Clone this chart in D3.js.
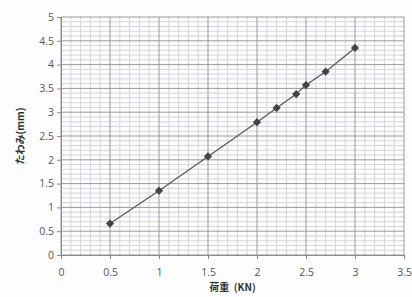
<!DOCTYPE html>
<html><head><meta charset="utf-8">
<script src="https://cdn.jsdelivr.net/npm/d3@7"></script>
<style>body{margin:0;background:#fff}svg{display:block}</style>
</head><body>
<script>
const loads = [0.5, 1.0, 1.5, 2.0, 2.2, 2.4, 2.5, 2.7, 3.0];
const deflections = [0.66, 1.35, 2.07, 2.79, 3.09, 3.38, 3.57, 3.85, 4.35];
const xTicks = [0, 0.5, 1, 1.5, 2, 2.5, 3, 3.5];
const yTicks = [0, 0.5, 1, 1.5, 2, 2.5, 3, 3.5, 4, 4.5, 5];
const xTitle = "荷重\u00a0 (KN)";
const yTitle = "たわみ(mm)";

const W = 412, H = 297;
const m = {left: 61, right: 8, top: 17, bottom: 42};
const svg = d3.select("body").append("svg").attr("width", W).attr("height", H);
svg.append("rect").attr("width", W).attr("height", H).attr("fill", "#fdfdfd");
const x = d3.scaleLinear().domain([0, 3.5]).range([m.left, W - m.right]);
const y = d3.scaleLinear().domain([0, 5]).range([H - m.bottom, m.top]);

const g = svg.append("g");
const minorX = d3.range(0, 35).map(i => i / 10).filter(v => Math.round(v * 10) % 5 !== 0);
const minorY = d3.range(0, 50).map(i => i / 10).filter(v => Math.round(v * 10) % 5 !== 0);
g.selectAll(".mx").data(minorX).join("line")
  .attr("x1", d => x(d)).attr("x2", d => x(d)).attr("y1", y(0)).attr("y2", y(5))
  .attr("stroke", "#d4d4dc").attr("stroke-width", 1);
g.selectAll(".my").data(minorY).join("line")
  .attr("y1", d => y(d)).attr("y2", d => y(d)).attr("x1", x(0)).attr("x2", x(3.5))
  .attr("stroke", "#d4d4dc").attr("stroke-width", 1);
g.selectAll(".Mx").data(xTicks).join("line")
  .attr("x1", d => x(d)).attr("x2", d => x(d)).attr("y1", y(0)).attr("y2", y(5))
  .attr("stroke", "#9a9a9a").attr("stroke-width", 1);
g.selectAll(".My").data(yTicks).join("line")
  .attr("y1", d => y(d)).attr("y2", d => y(d)).attr("x1", x(0)).attr("x2", x(3.5))
  .attr("stroke", "#9a9a9a").attr("stroke-width", 1);

const fmt = d => String(d);
const xAxis = svg.append("g").attr("transform", `translate(0,${y(0)})`)
  .call(d3.axisBottom(x).tickValues(xTicks).tickFormat(fmt).tickSize(4));
const yAxis = svg.append("g").attr("transform", `translate(${x(0)},0)`)
  .call(d3.axisLeft(y).tickValues(yTicks).tickFormat(fmt).tickSize(4));
[xAxis, yAxis].forEach(a => {
  a.select(".domain").attr("stroke", "#8a8a8a");
  a.selectAll(".tick line").attr("stroke", "#8a8a8a");
  a.selectAll("text").attr("fill", "#555").style("font-family", "Open Sans, sans-serif").style("font-size", "10.5px");
});
xAxis.selectAll("text").attr("dy", "1.3em");

const line = d3.line().x((d, i) => x(loads[i])).y(d => y(d));
svg.append("path").attr("d", line(deflections)).attr("fill", "none")
  .attr("stroke", "#555").attr("stroke-width", 1.2);
svg.selectAll(".pt").data(deflections).join("path")
  .attr("d", d3.symbol(d3.symbolSquare, 34))
  .attr("transform", (d, i) => `translate(${x(loads[i])},${y(d)}) rotate(45)`)
  .attr("fill", "#444");

svg.append("text").attr("x", (x(0) + x(3.5)) / 2).attr("y", H - 6).attr("text-anchor", "middle")
  .style("font-family", "Noto Sans CJK JP, sans-serif").style("font-size", "10px").style("font-weight", "bold")
  .attr("fill", "#333").text(xTitle);
svg.append("text").attr("transform", `translate(24,${(y(0) + y(5)) / 2}) rotate(-90)`).attr("text-anchor", "middle")
  .style("font-family", "Noto Sans CJK JP, sans-serif").style("font-size", "10px").style("font-weight", "bold")
  .attr("fill", "#333").text(yTitle);
</script>
</body></html>
